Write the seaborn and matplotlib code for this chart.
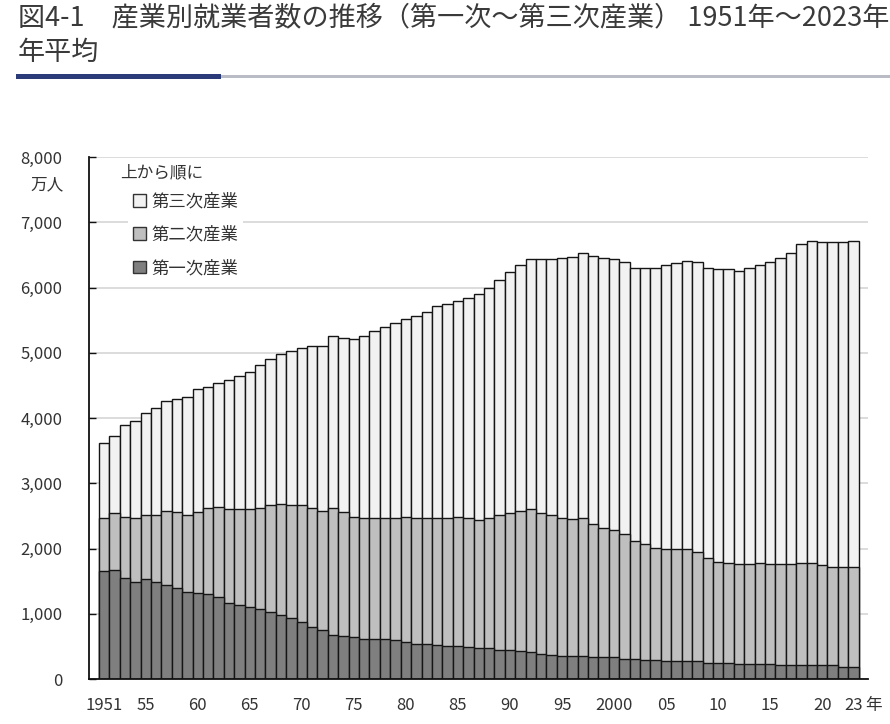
"""
産業別就業者数の推移（第一次～第三次産業）積み上げ棒グラフ
"""
import numpy as np
import pandas as pd
import matplotlib
matplotlib.use('Agg')
import matplotlib.pyplot as plt
from matplotlib.patches import Patch, Rectangle
import seaborn as sns

# データ（万人）
years = list(range(1951, 2024))

primary = [1650, 1670, 1550, 1480, 1530, 1480, 1440, 1400, 1340, 1320,
           1300, 1250, 1170, 1130, 1110, 1070, 1020, 980, 930, 870,
           790, 750, 680, 660, 640, 620, 620, 620, 600, 560,
           540, 540, 520, 500, 500, 490, 470, 470, 450, 450,
           430, 410, 390, 370, 350, 350, 350, 330, 330, 330,
           310, 310, 290, 290, 270, 270, 270, 270, 250, 250,
           250, 230, 230, 230, 230, 210, 210, 220, 210, 210,
           210, 190, 190]

secondary = [820, 870, 940, 990, 980, 1030, 1140, 1160, 1170, 1240,
             1320, 1390, 1430, 1470, 1490, 1550, 1640, 1700, 1730, 1790,
             1830, 1830, 1940, 1900, 1850, 1850, 1850, 1850, 1870, 1930,
             1930, 1930, 1950, 1970, 1990, 1980, 1970, 2000, 2060, 2090,
             2150, 2190, 2150, 2140, 2120, 2100, 2120, 2040, 1990, 1950,
             1910, 1800, 1780, 1720, 1720, 1720, 1720, 1680, 1610, 1550,
             1530, 1530, 1530, 1550, 1530, 1550, 1550, 1560, 1570, 1530,
             1510, 1530, 1530]

tertiary = [1140, 1180, 1410, 1480, 1560, 1650, 1680, 1730, 1810, 1880,
            1850, 1890, 1980, 2040, 2110, 2190, 2250, 2300, 2360, 2420,
            2480, 2520, 2630, 2670, 2720, 2780, 2860, 2930, 2990, 3030,
            3100, 3160, 3250, 3280, 3310, 3370, 3460, 3520, 3600, 3690,
            3760, 3830, 3890, 3920, 3980, 4020, 4060, 4120, 4130, 4150,
            4170, 4190, 4230, 4290, 4350, 4380, 4420, 4440, 4440, 4480,
            4500, 4500, 4540, 4560, 4630, 4690, 4770, 4880, 4940, 4960,
            4980, 4980, 5000]

tick_years = [1951, 1955, 1960, 1965, 1970, 1975, 1980, 1985, 1990, 1995,
              2000, 2005, 2010, 2015, 2020, 2023]
tick_labels = ['1951', '55', '60', '65', '70', '75', '80', '85', '90', '95',
               '2000', '05', '10', '15', '20', '23']

labels = ['第一次産業', '第二次産業', '第三次産業']
colors = ['#7f7f7f', '#bfbfbf', '#f2f2f2']

sns.set_theme(style='white')
plt.rcParams['font.family'] = ['Noto Sans CJK JP', 'DejaVu Sans']

df = pd.DataFrame({'year': [str(y) for y in years],
                   'primary': primary,
                   'secondary': secondary,
                   'tertiary': tertiary})
df['sec_top'] = df['primary'] + df['secondary']
df['total'] = df['sec_top'] + df['tertiary']

fig = plt.figure(figsize=(8.9, 7.24), dpi=100)
ax = fig.add_axes([89 / 890, 45 / 724, (868 - 89) / 890, (679 - 157) / 724])

# 積み上げ：後ろから重ねて描く
for col, c in [('total', colors[2]), ('sec_top', colors[1]), ('primary', colors[0])]:
    sns.barplot(data=df, x='year', y=col, color=c, width=1.0,
                edgecolor='#151515', linewidth=1.0, saturation=1, ax=ax)

ax.set_xlim(-1.45, 73.4)
ax.set_ylim(0, 8000)
ax.set_yticks(np.arange(0, 8001, 1000))
ax.set_yticklabels([f'{v:,}' for v in range(0, 8001, 1000)])
ax.set_xticks([years.index(y) for y in tick_years])
ax.set_xticklabels(tick_labels)
ax.set_xlabel('')
ax.set_ylabel('')

ax.yaxis.grid(True, color='#dcdcdc', linewidth=1.4)
ax.set_axisbelow(True)
for s in ['top', 'right']:
    ax.spines[s].set_visible(False)
for s in ['left', 'bottom']:
    ax.spines[s].set_color('#111111')
    ax.spines[s].set_linewidth(1.3)

ax.tick_params(axis='y', direction='in', length=5, width=1, color='#111111',
               pad=19, labelsize=12, labelcolor='#333333', left=True)
ax.tick_params(axis='x', length=0, pad=13, labelsize=12, labelcolor='#333333')

# 単位と「年」
ax.text(-0.033, 0.946, '万人', transform=ax.transAxes, ha='right', va='center',
        fontsize=12, color='#333333')
ax.text(72 + 1.9, -0.05, '年', transform=ax.get_xaxis_transform(),
        ha='center', va='center', fontsize=12, color='#333333', clip_on=False)

# 凡例
handles = [Patch(facecolor=colors[i], edgecolor='#333333', linewidth=1.0)
           for i in [2, 1, 0]]
leg = ax.legend(handles, [labels[i] for i in [2, 1, 0]],
                loc='upper left', bbox_to_anchor=(0.05, 0.942),
                frameon=True, facecolor='white', edgecolor='none', framealpha=1,
                fontsize=12.5, handlelength=0.75, handleheight=0.75,
                handletextpad=0.3, labelspacing=0.88, borderpad=0.3,
                borderaxespad=0)
for t in leg.get_texts():
    t.set_color('#333333')
ax.text(0.04, 0.97, '上から順に', transform=ax.transAxes, ha='left', va='center',
        fontsize=12, color='#333333')

# タイトル（2行）
fig.text(18 / 890, 1 - 18 / 724,
         '図4-1　産業別就業者数の推移（第一次～第三次産業） 1951年～2023年',
         ha='left', va='center', fontsize=19.5, color='#3a3a3a')
fig.text(18 / 890, 1 - 52 / 724, '年平均',
         ha='left', va='center', fontsize=19.5, color='#3a3a3a')

# タイトル下の線
fig.add_artist(Rectangle((220 / 890, 1 - 78 / 724), 670 / 890, 3 / 724,
                         transform=fig.transFigure, facecolor='#b9bcc4',
                         edgecolor='none'))
fig.add_artist(Rectangle((16 / 890, 1 - 78.5 / 724), 205 / 890, 4.5 / 724,
                         transform=fig.transFigure, facecolor='#2b3a78',
                         edgecolor='none'))

plt.savefig('out.png', dpi=100)
